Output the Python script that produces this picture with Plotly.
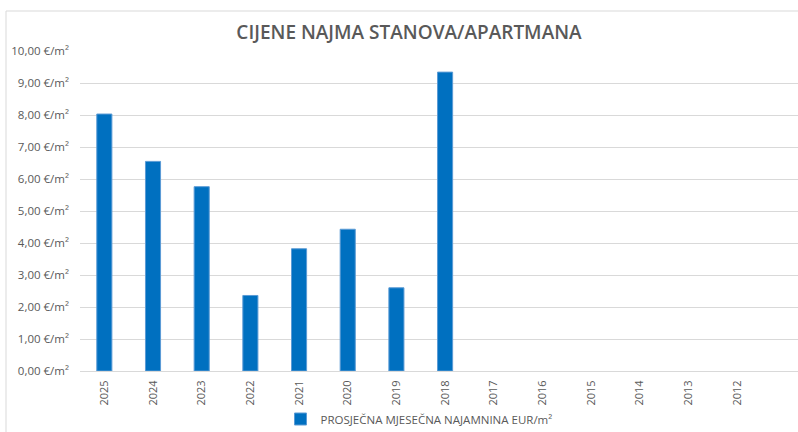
import plotly.graph_objects as go

years = ["2025", "2024", "2023", "2022", "2021", "2020", "2019", "2018",
         "2017", "2016", "2015", "2014", "2013", "2012"]
rent = [8.03, 6.55, 5.76, 2.36, 3.82, 4.43, 2.60, 9.34,
        None, None, None, None, None, None]
series_name = "PROSJEČNA MJESEČNA NAJAMNINA EUR/m²"
title_text = "CIJENE NAJMA STANOVA/APARTMANA"
y_tick_vals = [0, 1, 2, 3, 4, 5, 6, 7, 8, 9, 10]
y_tick_text = ["0,00 €/m²", "1,00 €/m²", "2,00 €/m²", "3,00 €/m²", "4,00 €/m²",
               "5,00 €/m²", "6,00 €/m²", "7,00 €/m²", "8,00 €/m²", "9,00 €/m²",
               "10,00 €/m²"]

W, H = 798, 432
L, R, T, B = 80, 0, 51, 61
pw = W - L - R
ph = H - T - B

def px_x(p):
    return (p - L) / pw

def px_y(p):
    return (H - B - p) / ph

fig = go.Figure()
fig.add_trace(go.Bar(
    x=years, y=rent, name=series_name,
    marker=dict(color="#0070C0", line=dict(color="#5B9BD5", width=1)),
    width=0.31, showlegend=True,
))

fig.update_layout(
    width=W, height=H,
    margin=dict(l=L, r=R, t=T, b=B, autoexpand=False),
    paper_bgcolor="white", plot_bgcolor="white",
    font=dict(family="Open Sans, Liberation Sans, sans-serif", color="#595959"),
    title=dict(text=title_text, x=px_x(409), xref="paper", xanchor="center",
               y=1 - 32 / H, yanchor="middle",
               font=dict(size=19, color="#595959", family="Open Sans", weight=600)),
    showlegend=True,
    legend=dict(orientation="h", x=px_x(419), xanchor="center",
                y=px_y(419), yanchor="middle",
                font=dict(size=11.5, color="#595959"),
                itemwidth=30),
    bargap=0.69,
)
fig.update_xaxes(
    type="category", range=[-0.5, 14.25], automargin=False,
    tickangle=-90, tickfont=dict(size=11, color="#595959"),
    showgrid=False, showline=True, linecolor="#D9D9D9", linewidth=1,
    ticks="", ticklabelstandoff=4,
)
fig.update_yaxes(
    range=[0, 10], tickvals=y_tick_vals, ticktext=y_tick_text, automargin=False,
    tickfont=dict(size=11.5, color="#595959"),
    showgrid=True, gridcolor="#D9D9D9", gridwidth=1,
    zeroline=False, showline=False, ticks="", ticklabelstandoff=10,
)
# chart-area border (top and left)
fig.add_shape(type="line", xref="paper", yref="paper",
              x0=px_x(6), x1=px_x(900), y0=px_y(11), y1=px_y(11),
              line=dict(color="#D9D9D9", width=1))
fig.add_shape(type="line", xref="paper", yref="paper",
              x0=px_x(6), x1=px_x(6), y0=px_y(11), y1=px_y(440),
              line=dict(color="#D9D9D9", width=1))

fig.write_html("out.html", config={"displayModeBar": False},
               post_script="document.body.style.margin='0';document.body.style.padding='0';")
